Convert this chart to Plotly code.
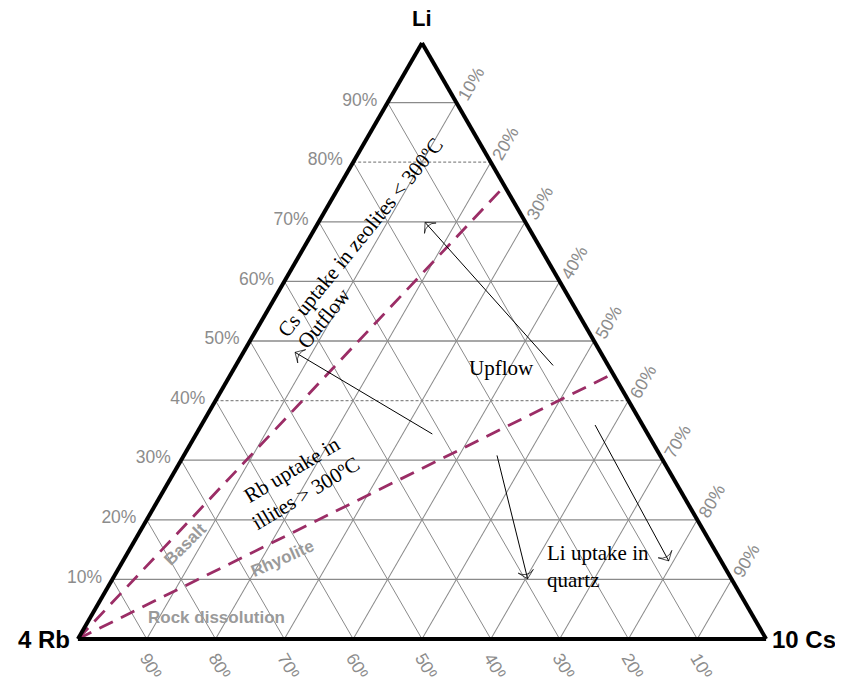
import math
import plotly.graph_objects as go

# ---------------- data (ternary %: Li, Rb, Cs) ----------------
tick_vals = [10, 20, 30, 40, 50, 60, 70, 80, 90]
tick_text = ["10%", "20%", "30%", "40%", "50%", "60%", "70%", "80%", "90%"]
dotted_li_levels = [40, 80]

# dashed boundary lines from the 4 Rb apex to the Li-Cs edge
zeolite_li = [0, 76.0]
zeolite_rb = [100, 0.0]
zeolite_cs = [0, 24.0]

illite_li = [0, 44.5]
illite_rb = [100, 0.0]
illite_cs = [0, 55.5]

# arrows (tail -> head)
outflow_li = [34.4, 48.1]
outflow_rb = [31.3, 44.4]
outflow_cs = [34.3, 7.5]

upflow_li = [45.9, 69.9]
upflow_rb = [8.0, 14.6]
upflow_cs = [46.1, 15.5]

quartz1_li = [30.8, 10.1]
quartz1_rb = [23.7, 29.6]
quartz1_cs = [45.5, 60.3]

quartz2_li = [35.9, 13.1]
quartz2_rb = [6.9, 7.6]
quartz2_cs = [57.2, 79.3]

# ---------------- layout geometry ----------------
W_PX, H_PX = 843, 677
M_L, M_T = 54, 35
plot_w, plot_h = 720, 596
M_R = W_PX - M_L - plot_w
M_B = H_PX - M_T - plot_h
tri_h = plot_h
tri_w = tri_h * 2 / math.sqrt(3)


def to_paper(li, rb, cs):
    s = li + rb + cs
    li, cs = li / s, cs / s
    x0 = (plot_w - tri_w) / 2
    xp = x0 + tri_w * (cs + li / 2)
    return xp / plot_w, li


GRID = "#8a8a8a"
TICKC = "#8c8c8c"
PURPLE = "#9b2d66"

fig = go.Figure()

# horizontal (Li) grid lines
for v in tick_vals:
    fig.add_trace(go.Scatterternary(
        a=[v, v], b=[100 - v, 0], c=[0, 100 - v], mode="lines",
        line=dict(color=GRID, width=1.3,
                  dash="3px,2px" if v in dotted_li_levels else "solid"),
        hoverinfo="skip", showlegend=False))

# dashed boundaries
for li, rb, cs in [(zeolite_li, zeolite_rb, zeolite_cs),
                   (illite_li, illite_rb, illite_cs)]:
    fig.add_trace(go.Scatterternary(
        a=li, b=rb, c=cs, mode="lines",
        line=dict(color=PURPLE, width=2.8, dash="15px,9px"),
        hoverinfo="skip", showlegend=False))

# arrows
for li, rb, cs in [(outflow_li, outflow_rb, outflow_cs),
                   (upflow_li, upflow_rb, upflow_cs),
                   (quartz1_li, quartz1_rb, quartz1_cs),
                   (quartz2_li, quartz2_rb, quartz2_cs)]:
    fig.add_trace(go.Scatterternary(
        a=li, b=rb, c=cs, mode="lines+markers",
        line=dict(color="black", width=1),
        marker=dict(symbol="arrow-wide-open", size=[0, 11], angleref="previous",
                    color="black", line=dict(color="black", width=1)),
        hoverinfo="skip", showlegend=False))

tick_font = dict(family="Arial, Liberation Sans", size=17.5, color=TICKC)
axis_common = dict(
    tickmode="array", tickvals=tick_vals, ticktext=tick_text,
    showgrid=True, gridcolor=GRID,
    gridwidth=1.3, linecolor="black", linewidth=4, ticks="",
    tickfont=tick_font,
    title=dict(text=""), layer="above traces")

fig.update_layout(
    width=W_PX, height=H_PX,
    margin=dict(l=M_L, r=M_R, t=M_T, b=M_B),
    paper_bgcolor="white",
    showlegend=False,
    font=tick_font,
    ternary=dict(
        sum=100,
        bgcolor="white",
        domain=dict(x=[0, 1], y=[0, 1]),
        aaxis=dict(axis_common, showgrid=False, ticks="outside", ticklen=6,
                   tickcolor="rgba(0,0,0,0)"),
        baxis=dict(axis_common, tickangle=60),
        caxis=dict(axis_common, tickangle=-60),
    ),
)

serif = dict(family="Liberation Serif, Times New Roman", size=21, color="black")
gray_bold = dict(family="Arial, Liberation Sans", size=17, color="#9a9a9a")
corner = dict(family="Arial, Liberation Sans", size=24, color="black")

notes = [
    # text, (li, rb, cs), angle, font, xanchor
    ("Cs uptake in zeolites < 300ºC", (67.4, 25.2, 7.4), -51, serif, "center"),
    ("Outflow", (53.8, 37.3, 8.9), -51, serif, "center"),
    ("Upflow", (45.5, 15.7, 38.8), 0, serif, "center"),
    ("Rb uptake in<br>illites > 300ºC", (26.5, 54.7, 18.8), -31, serif, "center"),
    ("Li uptake in<br>quartz", (12.2, 26.0, 61.8), 0, serif, "left"),
    ("<b>Basalt</b>", (15.8, 76.5, 7.7), -45, gray_bold, "center"),
    ("<b>Rhyolite</b>", (13.5, 63.5, 23.0), -24, gray_bold, "center"),
    ("<b>Rock dissolution</b>", (3.6, 78.0, 18.4), 0, gray_bold, "center"),
]
for text, (li, rb, cs), ang, font, xa in notes:
    px, py = to_paper(li, rb, cs)
    fig.add_annotation(x=px, y=py, xref="paper", yref="paper", text=text,
                       textangle=ang, font=font, showarrow=False,
                       xanchor=xa, yanchor="middle",
                       align="left" if xa == "left" else "center")

px, py = to_paper(100, 0, 0)
fig.add_annotation(x=px, y=py, xref="paper", yref="paper", text="<b>Li</b>",
                   font=dict(corner, size=22), showarrow=False,
                   xanchor="center", yanchor="bottom", yshift=10)
px, py = to_paper(0, 100, 0)
fig.add_annotation(x=px, y=py, xref="paper", yref="paper", text="<b>4 Rb</b>",
                   font=corner, showarrow=False, xanchor="right",
                   yanchor="middle", xshift=-6)
px, py = to_paper(0, 0, 100)
fig.add_annotation(x=px, y=py, xref="paper", yref="paper", text="<b>10 Cs</b>",
                   font=corner, showarrow=False, xanchor="left",
                   yanchor="middle", xshift=4)

fig.write_html("out.html")
